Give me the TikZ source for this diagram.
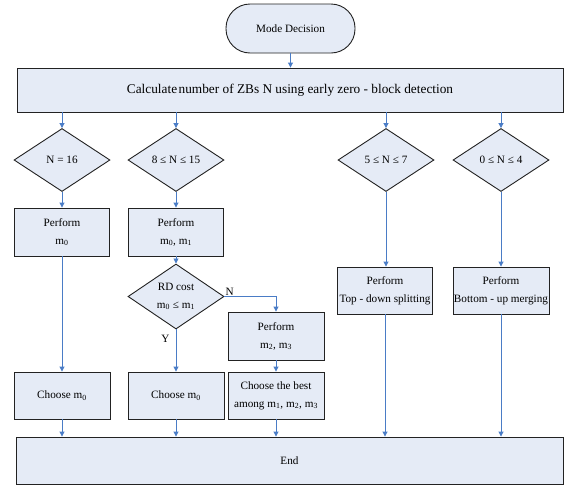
\documentclass[tikz,border=0pt]{standalone}
\usepackage{fontspec}
\setmainfont{Liberation Serif}
\usetikzlibrary{arrows.meta,shapes.geometric}
\definecolor{boxfill}{HTML}{E5EBF6}
\definecolor{arrowblue}{HTML}{4A7CC6}
\definecolor{edgegray}{HTML}{222222}
\begin{document}
\begin{tikzpicture}[x=1pt,y=-1pt,
  base/.style={draw=edgegray, fill=boxfill, line width=0.9pt, font=\fontsize{11.2}{18}\selectfont, align=center, inner sep=0pt},
  procbox/.style={base, rectangle, minimum width=#1, minimum height=48pt},
  startbox/.style={base, rectangle, rounded corners=24pt, minimum width=129pt, minimum height=49pt},
  decbox/.style={base, diamond, minimum width=96pt, minimum height=63pt},
  arr/.style={draw=arrowblue, line width=0.9pt, -{Triangle[length=5pt,width=5pt]}},
  lbl/.style={font=\fontsize{11.2}{13}\selectfont, inner sep=1pt}]
\useasboundingbox (0,0) rectangle (565,485);

\node[startbox] (start) at (290.5,28.5) {Mode Decision};
\node[procbox=546pt, minimum height=44pt, font=\fontsize{13.3}{16}\selectfont] (calc) at (290,90) {Calculate\kern1.5pt number of ZBs N using early zero - block detection};

\node[decbox] (d1) at (62,160) {N = 16};
\node[decbox] (d2) at (176,160) {8 ≤ N ≤ 15};
\node[decbox] (d3) at (386,160) {5 ≤ N ≤ 7};
\node[decbox] (d4) at (501,160) {0 ≤ N ≤ 4};

\node[procbox=95pt] (p1) at (62,232) {Perform\\m\textsubscript{0}};
\node[procbox=95pt] (p2) at (176,232) {Perform\\m\textsubscript{0}, m\textsubscript{1}};
\node[decbox] (rd) at (176,296.5) {RD cost\\m\textsubscript{0} ≤ m\textsubscript{1}};
\node[procbox=96pt] (p3) at (276,336) {Perform\\m\textsubscript{2}, m\textsubscript{3}};
\node[procbox=95pt, minimum height=47pt] (p4) at (385,290.5) {Perform\\Top - down splitting};
\node[procbox=96pt, minimum height=47pt] (p5) at (501,290.5) {Perform\\Bottom - up merging};

\node[procbox=96pt, minimum height=47pt] (c1) at (62,395.5) {Choose m\textsubscript{0}};
\node[procbox=96pt, minimum height=47pt] (c2) at (176,395.5) {Choose m\textsubscript{0}};
\node[procbox=96pt, minimum height=47pt] (c3) at (276,395.5) {Choose the best\\among m\textsubscript{1}, m\textsubscript{2}, m\textsubscript{3}};

\node[procbox=547pt, minimum height=47pt] (end) at (289.5,460.5) {End};

\draw[arr] (start.south) -- (start.south |- calc.north);
\foreach \d in {d1,d2,d3,d4} {\draw[arr] (calc.south -| \d.north) -- (\d.north);}
\draw[arr] (d1) -- (p1);
\draw[arr] (d2) -- (p2);
\draw[arr] (d3.south) -- (d3.south |- p4.north);
\draw[arr] (d4.south) -- (d4.south |- p5.north);
\draw[arr] (p1) -- (c1);
\draw[arr] (p2) -- (rd);
\draw[arr] (rd) -- (c2) node[lbl, pos=0.23, left=5pt] {Y};
\draw[arr] (rd.east) -| (p3.north);
\node[lbl, anchor=south west] at (rd.east) {N};
\draw[arr] (p3) -- (c3);
\foreach \n in {c1,c2,c3,p4,p5} {\draw[arr] (\n.south) -- (\n.south |- end.north);}
\end{tikzpicture}
\end{document}
